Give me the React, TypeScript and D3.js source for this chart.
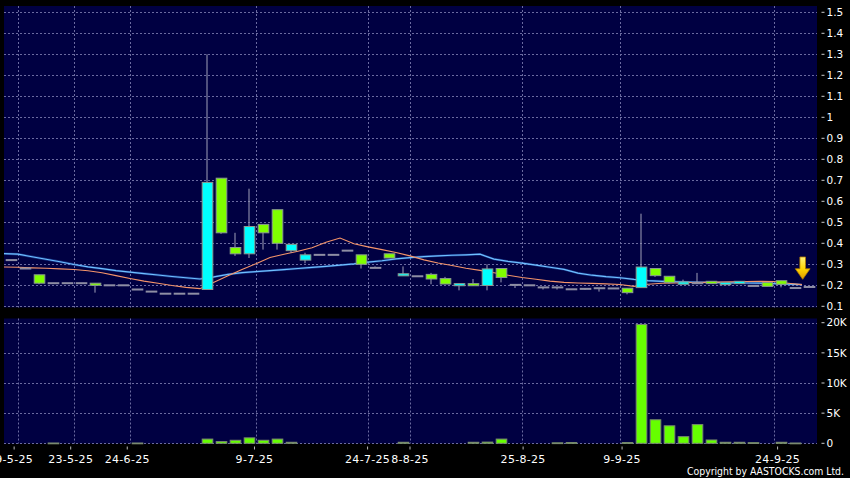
import React from "react";
import * as d3 from "d3";

// daily OHLC, one entry per slot (left to right)
const openP = [
  0.32, 0.28, 0.25, 0.21, 0.21, 0.21, 0.21, 0.2, 0.2, 0.18,
  0.17, 0.16, 0.16, 0.16, 0.18, 0.71, 0.38, 0.35, 0.49, 0.56,
  0.365, 0.32, 0.345, 0.345, 0.365, 0.345, 0.283, 0.35, 0.245, 0.243,
  0.252, 0.232, 0.198, 0.208, 0.199, 0.28, 0.202, 0.2, 0.19, 0.19,
  0.181, 0.183, 0.186, 0.185, 0.186, 0.189, 0.28, 0.243, 0.205, 0.21,
  0.219, 0.203, 0.208, 0.197, 0.213, 0.222, 0.187, 0.192,
];
const highP = [
  0.32, 0.28, 0.25, 0.21, 0.21, 0.21, 0.21, 0.2, 0.2, 0.18,
  0.17, 0.16, 0.16, 0.16, 1.3, 0.71, 0.45, 0.66, 0.49, 0.56,
  0.395, 0.355, 0.345, 0.345, 0.365, 0.345, 0.29, 0.35, 0.29, 0.243,
  0.259, 0.24, 0.208, 0.23, 0.3, 0.28, 0.202, 0.2, 0.19, 0.19,
  0.181, 0.183, 0.186, 0.185, 0.186, 0.541, 0.28, 0.243, 0.227, 0.259,
  0.219, 0.213, 0.219, 0.197, 0.213, 0.222, 0.187, 0.192,
];
const lowP = [
  0.32, 0.28, 0.205, 0.21, 0.21, 0.21, 0.165, 0.2, 0.2, 0.18,
  0.17, 0.16, 0.16, 0.16, 0.18, 0.445, 0.34, 0.33, 0.37, 0.37,
  0.355, 0.305, 0.345, 0.345, 0.365, 0.28, 0.283, 0.33, 0.245, 0.243,
  0.205, 0.206, 0.176, 0.198, 0.176, 0.214, 0.187, 0.2, 0.18, 0.18,
  0.181, 0.178, 0.17, 0.185, 0.157, 0.189, 0.24, 0.208, 0.205, 0.21,
  0.208, 0.203, 0.208, 0.197, 0.195, 0.19, 0.187, 0.192,
];
const closeP = [
  0.32, 0.28, 0.21, 0.21, 0.21, 0.21, 0.2, 0.2, 0.2, 0.18,
  0.17, 0.16, 0.16, 0.16, 0.69, 0.45, 0.35, 0.48, 0.45, 0.4,
  0.395, 0.345, 0.345, 0.345, 0.365, 0.3, 0.283, 0.33, 0.255, 0.243,
  0.23, 0.206, 0.208, 0.198, 0.278, 0.237, 0.202, 0.2, 0.19, 0.19,
  0.181, 0.183, 0.186, 0.185, 0.165, 0.287, 0.246, 0.214, 0.216, 0.21,
  0.208, 0.213, 0.219, 0.197, 0.195, 0.205, 0.187, 0.192,
];
const volume = [
  0, 0, 0, 50, 0, 0, 0, 0, 0, 50,
  0, 0, 0, 0, 700, 280, 500, 900, 500, 700,
  170, 0, 0, 0, 0, 0, 0, 0, 170, 0,
  0, 0, 0, 170, 200, 700, 0, 0, 0, 80,
  120, 0, 0, 0, 120, 19700, 3900, 2900, 1100, 3100,
  550, 170, 170, 100, 0, 170, 50, 0,
];
// moving averages (orange = short, blue = long)
const maShort = [
  0.287, 0.286, 0.283, 0.281, 0.278, 0.275, 0.269, 0.26, 0.246, 0.232,
  0.22, 0.21, 0.199, 0.19, 0.184, 0.214, 0.245, 0.275, 0.303, 0.332,
  0.348, 0.362, 0.379, 0.405, 0.425, 0.398, 0.383, 0.37, 0.356, 0.34,
  0.321, 0.306, 0.294, 0.281, 0.271, 0.26, 0.248, 0.237, 0.229, 0.22,
  0.214, 0.211, 0.209, 0.207, 0.204, 0.195, 0.205, 0.21, 0.211, 0.213,
  0.214, 0.215, 0.217, 0.218, 0.219, 0.218, 0.21, 0.203,
];
const maLong = [
  0.351, 0.348, 0.336, 0.324, 0.312, 0.299, 0.288, 0.279, 0.27, 0.263,
  0.256, 0.249, 0.242, 0.236, 0.23, 0.24, 0.252, 0.26, 0.265, 0.27,
  0.275, 0.28, 0.285, 0.29, 0.296, 0.302, 0.31, 0.317, 0.326, 0.332,
  0.337, 0.34, 0.343, 0.345, 0.348, 0.325, 0.314, 0.306, 0.296, 0.286,
  0.276, 0.258, 0.248, 0.241, 0.236, 0.228, 0.222, 0.219, 0.217, 0.215,
  0.214, 0.213, 0.212, 0.211, 0.21, 0.208, 0.206, 0.203,
];
const dateTickIdx = [1, 5, 9, 18, 26, 29, 37, 44, 55];
const dateLabels = ["9-5-25", "23-5-25", "24-6-25", "9-7-25", "24-7-25", "8-8-25", "25-8-25", "9-9-25", "24-9-25"];
const priceTicks = [1.5, 1.4, 1.3, 1.2, 1.1, 1, 0.9, 0.8, 0.7, 0.6, 0.5, 0.4, 0.3, 0.2, 0.1];
const volTicks = [0, 5000, 10000, 15000, 20000];
const volTickLabels = ["0", "5K", "10K", "15K", "20K"];

const width = 850;
const height = 478;
const plotLeft = 4;
const plotRight = 816;
const mainTop = 6;
const mainBottom = 307.5;
const volTop = 318.5;
const volBottom = 443.5;

const upColor = "#00ffff";
const downColor = "#80ff00";
const gridColor = "#6a6aa0";
const font = "'DejaVu Sans', Verdana, sans-serif";

const App = () => {
  const idx = d3.range(closeP.length);

  const x = d3.scaleBand<number>().domain(idx).range([plotLeft, plotRight]);
  // axis labels sit on a slightly wider scale than the plot
  const xAxis = d3.scaleLinear().domain([0, closeP.length]).range([0, 820]);

  const y = d3.scaleLinear().domain([0.1, 1.5]).range([306.3, 12.3]);
  const yVol = d3.scaleLinear().domain([0, 20000]).range([443.3, 322.7]);

  const step = x.step();
  const bodyX = (i: number) => (x(i) as number) + 2.2;
  const bodyW = step - 3.4;
  const mid = (i: number) => (x(i) as number) + step / 2;

  const lineOf = d3
    .line<number>()
    .x((_, i) => x(i) as number)
    .y((d) => y(d));

  const last = closeP.length - 1;
  const ax = (x(last) as number) + 0.7;
  const ay = y(closeP[last]) - 7.7;
  const arrow = [
    [ax - 2.8, ay - 22.3],
    [ax + 2.8, ay - 22.3],
    [ax + 2.8, ay - 10.5],
    [ax + 7.4, ay - 10.5],
    [ax, ay],
    [ax - 7.4, ay - 10.5],
    [ax - 2.8, ay - 10.5],
  ];

  return (
    <svg
      width={width}
      height={height}
      style={{ position: "absolute", left: 0, top: 0, display: "block" }}
    >
      <defs>
        <linearGradient id="arrowFill" x1="0" y1="0" x2="0" y2="1">
          <stop offset="0%" stopColor="#fff27a" />
          <stop offset="55%" stopColor="#ffd400" />
          <stop offset="100%" stopColor="#e09a00" />
        </linearGradient>
      </defs>
      <rect width={width} height={height} fill="#000" />

      {/* panels */}
      <rect x={plotLeft} y={mainTop} width={plotRight + 1 - plotLeft} height={mainBottom - mainTop} fill="#000042" />
      <rect x={plotLeft} y={volTop} width={plotRight + 1 - plotLeft} height={volBottom - volTop} fill="#000042" />

      {/* grid */}
      <g stroke={gridColor} strokeWidth={1} strokeDasharray="2,2" fill="none">
        {priceTicks.map((t) => (
          <line key={"pg" + t} x1={plotLeft} x2={plotRight + 1} y1={Math.round(y(t)) + 0.5} y2={Math.round(y(t)) + 0.5} />
        ))}
        {volTicks.map((t) => (
          <line key={"vg" + t} x1={plotLeft} x2={plotRight + 1} y1={Math.round(yVol(t)) + 0.5} y2={Math.round(yVol(t)) + 0.5} />
        ))}
        {dateTickIdx.map((d) => (
          <g key={"xg" + d}>
            <line x1={(x(d) as number) + 0.5} x2={(x(d) as number) + 0.5} y1={mainTop} y2={mainBottom} />
            <line x1={(x(d) as number) + 0.5} x2={(x(d) as number) + 0.5} y1={volTop} y2={volBottom} />
          </g>
        ))}
      </g>

      {/* moving averages */}
      <path d={lineOf(maLong) as string} fill="none" stroke="#3f8fff" strokeWidth={2.4} strokeOpacity={0.35} />
      <path d={lineOf(maLong) as string} fill="none" stroke="#6fc0ff" strokeWidth={1.2} />
      <path d={lineOf(maShort) as string} fill="none" stroke="#f4946a" strokeWidth={1.1} />

      {/* candles */}
      <g>
        {idx.map((i) => {
          const o = openP[i];
          const c = closeP[i];
          const wick =
            highP[i] !== lowP[i] ? (
              <line
                x1={mid(i)}
                x2={mid(i)}
                y1={y(highP[i])}
                y2={y(lowP[i])}
                stroke="#a0a0b8"
                strokeWidth={1}
              />
            ) : null;
          if (o === c) {
            return (
              <g key={i}>
                {wick}
                <rect x={bodyX(i) - 0.5} y={y(c) - 1} width={bodyW + 1} height={2} fill="#8e8ea4" />
              </g>
            );
          }
          const top = y(Math.max(o, c));
          const bot = y(Math.min(o, c));
          return (
            <g key={i}>
              {wick}
              <rect
                x={bodyX(i)}
                y={top}
                width={bodyW}
                height={Math.max(bot - top, 1.5)}
                fill={c > o ? upColor : downColor}
                stroke="#8a9a90"
                strokeWidth={1}
              />
            </g>
          );
        })}
      </g>

      {/* last price marker */}
      <path
        d={"M" + arrow.map((p) => p.join(",")).join("L") + "Z"}
        fill="url(#arrowFill)"
        stroke="#b07a00"
        strokeWidth={0.8}
      />

      {/* volume */}
      <g>
        {idx
          .filter((i) => volume[i] > 0)
          .map((i) => (
            <rect
              key={i}
              x={bodyX(i)}
              y={yVol(volume[i])}
              width={bodyW}
              height={Math.max(yVol(0) - yVol(volume[i]), 0.8)}
              fill="#66ff00"
              stroke="#7a8a70"
              strokeWidth={1}
            />
          ))}
      </g>

      {/* right axes */}
      <g fontFamily={font} fontSize={10.5} fill="#fff">
        {priceTicks.map((t) => (
          <g key={"pt" + t}>
            <line x1={821.5} x2={824.5} y1={y(t)} y2={y(t)} stroke="#ccc" />
            <text x={826.5} y={y(t)} dy="0.36em">
              {String(+t.toFixed(1))}
            </text>
          </g>
        ))}
        {volTicks.map((t, k) => (
          <g key={"vt" + t}>
            <line x1={821.5} x2={824.5} y1={yVol(t)} y2={yVol(t)} stroke="#ccc" />
            <text x={826.5} y={yVol(t)} dy="0.36em">
              {volTickLabels[k]}
            </text>
          </g>
        ))}
      </g>

      {/* date axis */}
      <g fontFamily={font} fontSize={11} fill="#fff">
        {dateTickIdx.map((d, k) => (
          <g key={"dt" + d}>
            <line x1={xAxis(d)} x2={xAxis(d)} y1={446.5} y2={449.5} stroke="#bbb" />
            <text x={xAxis(d)} y={462.5} textAnchor="middle" letterSpacing={0.3}>
              {dateLabels[k]}
            </text>
          </g>
        ))}
      </g>

      <text
        x={844}
        y={475}
        textAnchor="end"
        fontFamily={font}
        fontSize={10}
        fill="#fff"
        textLength={157}
        lengthAdjust="spacingAndGlyphs"
      >
        Copyright by AASTOCKS.com Ltd.
      </text>
    </svg>
  );
};

export default App;
